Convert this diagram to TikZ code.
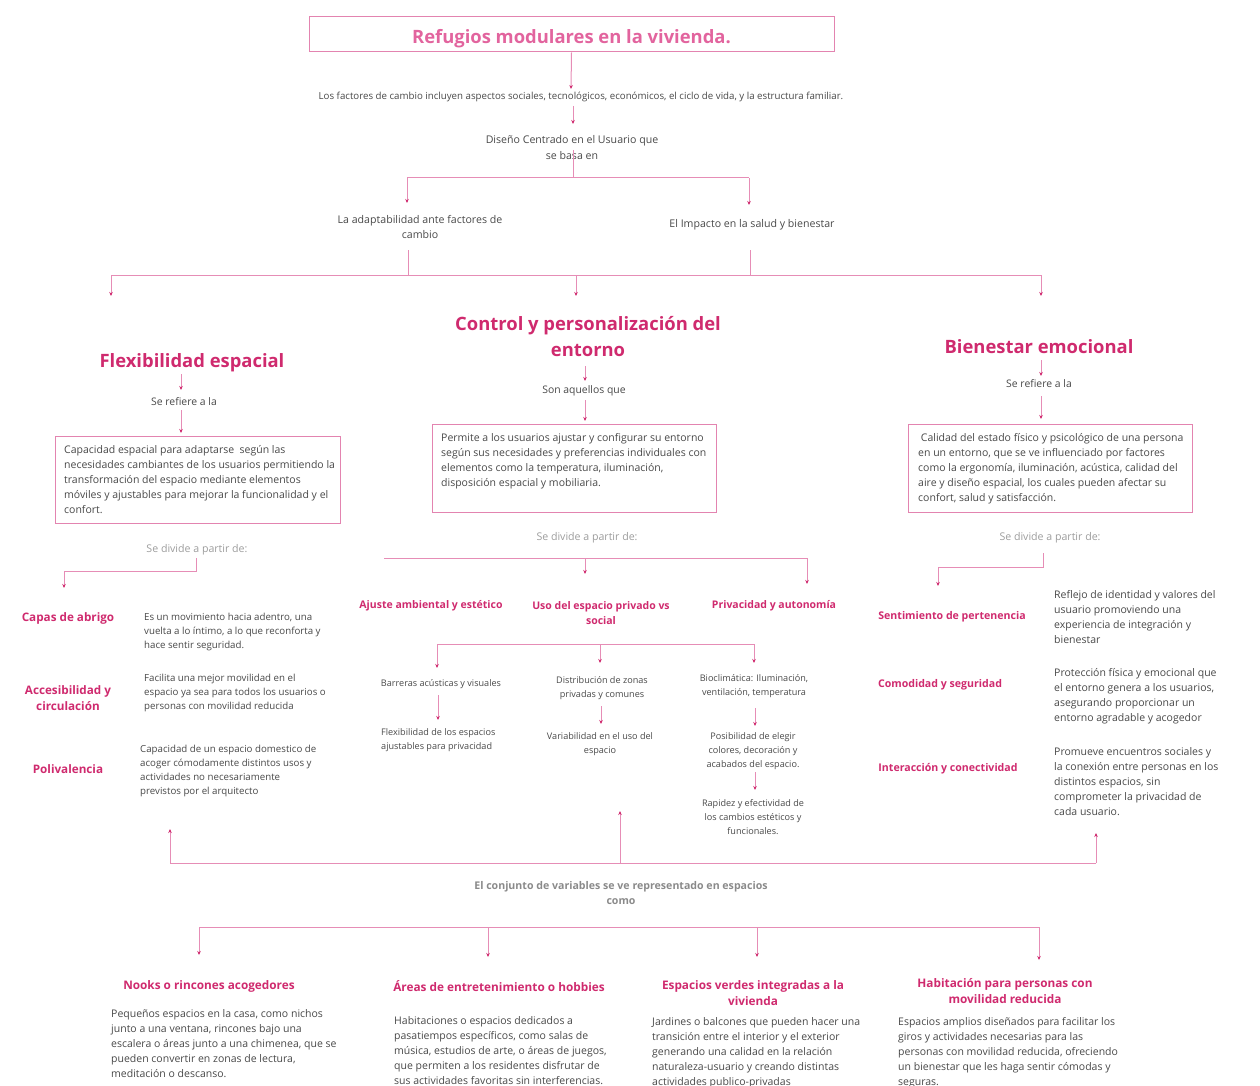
\documentclass[tikz,border=0pt]{standalone}
\usepackage{fontspec}
\setmainfont{Open Sans}
\usetikzlibrary{arrows.meta}
\definecolor{tpink}{HTML}{E2649E}
\definecolor{mag}{HTML}{CF2A6E}
\definecolor{lpink}{HTML}{E68DB6}
\definecolor{bpink}{HTML}{E384B0}
\definecolor{tgray}{HTML}{484848}
\definecolor{lgray}{HTML}{9C9C9C}
\definecolor{mgray}{HTML}{8A8A8A}
\tikzset{
  conn/.style={draw=lpink, line width=1pt},
  arr/.style={conn, -{Stealth[length=4pt,width=3.5pt,color=mag]}},
  body/.style={inner sep=0pt, text=tgray, align=left, anchor=north west, font=\fontsize{10.5}{15}\selectfont},
  sbody/.style={inner sep=0pt, text=tgray, align=left, anchor=north west, font=\fontsize{9.7}{14}\selectfont},
  tiny/.style={inner sep=0pt, text=tgray, align=center, font=\fontsize{9.1}{13.8}\selectfont},
  lab/.style={inner sep=0pt, text=tgray, align=center, font=\fontsize{10.6}{15.5}\selectfont},
  divl/.style={inner sep=0pt, text=lgray, font=\fontsize{10.6}{14}\selectfont},
  bighead/.style={inner sep=0pt, text=mag, align=center, font=\fontsize{18.4}{26}\selectfont\bfseries},
  subhead/.style={inner sep=0pt, text=mag, align=center, font=\fontsize{11.8}{16}\selectfont\bfseries},
  lsub/.style={subhead, font=\fontsize{11.7}{16}\selectfont\bfseries},
  csub/.style={subhead, font=\fontsize{10.5}{15}\selectfont\bfseries},
  rsub/.style={subhead, font=\fontsize{10.6}{15}\selectfont\bfseries},
  box/.style={draw=bpink, line width=1pt, inner sep=0pt},
}
\begin{document}
\begin{tikzpicture}[x=1pt,y=-1pt]
\useasboundingbox (0,0) rectangle (1260,1086);
% title
\node[box, minimum width=525pt, minimum height=35pt, text height=14pt, text depth=1pt, text=tpink, font=\fontsize{18.4}{20}\selectfont\bfseries] (title) at (571.5,34.5) {\raisebox{-3pt}{Refugios modulares en la vivienda.}};
\node[tiny, font=\fontsize{9.7}{12}\selectfont] (factores) at (581,97) {Los factores de cambio incluyen aspectos sociales, tecnológicos, económicos, el ciclo de vida, y la estructura familiar.};
\node[lab] (disenio) at (572,147.5) {Diseño Centrado en el Usuario que\\se basa en};
\node[lab] (adapt) at (420,227) {La adaptabilidad ante factores de\\cambio};
\node[lab] (impacto) at (752,225) {El Impacto en la salud y bienestar};

\coordinate (t0) at (571,89);
\draw[arr] (title.south) -- (t0);
\coordinate (f0) at (573,106);
\coordinate (f1) at (573,124);
\draw[arr] (f0) -- (f1);
\coordinate (d0) at (573,150);
\coordinate (d1) at (573,178);
\draw[conn] (d0) -- (d1);
\coordinate (b1l) at (407,178);
\coordinate (b1r) at (749,178);
\draw[conn] (b1l) -- (b1r);
\draw[arr] (b1l) -- (407,203);
\draw[arr] (b1r) -- (749,205);
\coordinate (a0) at (408,250);
\coordinate (a1) at (408,275);
\coordinate (i0) at (750,250);
\coordinate (i1) at (750,275);
\draw[conn] (a0) -- (a1);
\draw[conn] (i0) -- (i1);
\coordinate (b2l) at (111,275);
\coordinate (b2m) at (576,275);
\coordinate (b2r) at (1041,275);
\draw[conn] (b2l) -- (b2r);
\draw[arr] (b2l) -- (111,296);
\draw[arr] (b2m) -- (576,296);
\draw[arr] (b2r) -- (1041,296);

% three main headings
\node[bighead] (flex) at (192,363) {Flexibilidad espacial};
\node[bighead] (control) at (588,337) {Control y personalización del\\entorno};
\node[bighead] (bien) at (1039,347) {Bienestar emocional};

\node[lab, font=\fontsize{10.4}{14}\selectfont] (flexref) at (184,402) {Se refiere a la};
\node[lab, font=\fontsize{10.4}{14}\selectfont] (ctrlson) at (584,391) {Son aquellos que};
\node[lab, font=\fontsize{10.4}{14}\selectfont] (bienref) at (1039,384) {Se refiere a la};

\draw[arr] (181,374) -- (181,390);
\draw[arr] (181,410) -- (181,433);
\draw[arr] (585,366) -- (585,381);
\draw[arr] (585,400) -- (585,421);
\draw[arr] (1041,360) -- (1041,376);
\draw[arr] (1041,396) -- (1041,419);

% boxes
\draw[box] (55,436) rectangle (340,523);
\node[body] (flexbox) at (64,443) {\strut Capacidad espacial para adaptarse\ \ según las\\necesidades cambiantes de los usuarios permitiendo la\\transformación del espacio mediante elementos\\móviles y ajustables para mejorar la funcionalidad y el\\confort.};
\draw[box] (432,424) rectangle (716,512);
\node[body] (ctrlbox) at (441,431) {\strut Permite a los usuarios ajustar y configurar su entorno\\según sus necesidades y preferencias individuales con\\elementos como la temperatura, iluminación,\\disposición espacial y mobiliaria.};
\draw[box] (908,424) rectangle (1192,512);
\node[body] (bienbox) at (918,431) {\strut\ Calidad del estado físico y psicológico de una persona\\en un entorno, que se ve influenciado por factores\\como la ergonomía, iluminación, acústica, calidad del\\aire y diseño espacial, los cuales pueden afectar su\\confort, salud y satisfacción.};

% se divide
\node[divl] (flexdiv) at (197,550) {Se divide a partir de:};
\node[divl] (ctrldiv) at (587,538) {Se divide a partir de:};
\node[divl] (biendiv) at (1050,538) {Se divide a partir de:};

\draw[arr] (196,558) -- (196,571) -- (64,571) -- (64,588);
\draw[conn] (384,558) -- (807,558);
\draw[arr] (585,558) -- (585,574);
\draw[arr] (807,558) -- (807,584);
\draw[arr] (1043,553) -- (1043,567) -- (938,567) -- (938,586);

% left column
\node[lsub] (capas) at (68,618) {Capas de abrigo};
\node[sbody] (capasd) at (144,610) {\strut Es un movimiento hacia adentro, una\\vuelta a lo íntimo, a lo que reconforta y\\hace sentir seguridad.};
\node[lsub] (acces) at (68,698) {Accesibilidad y\\circulación};
\node[sbody] (accesd) at (144,671) {\strut Facilita una mejor movilidad en el\\espacio ya sea para todos los usuarios o\\personas con movilidad reducida};
\node[lsub] (poli) at (68,769) {Polivalencia};
\node[sbody] (polid) at (140,742) {\strut Capacidad de un espacio domestico de\\acoger cómodamente distintos usos y\\actividades no necesariamente\\previstos por el arquitecto};

% center column
\node[csub] (ajuste) at (431,606) {Ajuste ambiental y estético};
\node[csub] (uso) at (601,613.5) {Uso del espacio privado vs\\social};
\node[csub] (priv) at (774,606) {Privacidad y autonomía};

\draw[conn] (437,644) -- (754,644);
\draw[arr] (437,644) -- (437,668);
\draw[arr] (600,644) -- (600,663);
\draw[arr] (754,644) -- (754,663);

\node[tiny] (barreras) at (441,684) {Barreras acústicas y visuales};
\node[tiny, anchor=north west, align=left] (flexesp) at (381,726) {\strut Flexibilidad de los espacios\\ajustables para privacidad};
\node[tiny, anchor=north] (distrib) at (602,674) {\strut Distribución de zonas\\privadas y comunes};
\node[tiny, anchor=north] (variab) at (600,730) {\strut Variabilidad en el uso del\\espacio};
\node[tiny, anchor=north] (biocl) at (754,672) {\strut Bioclimática: Iluminación,\\ventilación, temperatura};
\node[tiny, anchor=north] (posib) at (753,730) {\strut Posibilidad de elegir\\colores, decoración y\\acabados del espacio.};
\node[tiny, anchor=north] (rapidez) at (753,797) {\strut Rapidez y efectividad de\\los cambios estéticos y\\funcionales.};

\draw[arr] (438,695) -- (438,720);
\draw[arr] (601,706) -- (601,724);
\draw[arr] (755,708) -- (755,726);
\draw[arr] (755,772) -- (755,790);

% right column
\node[rsub] (sent) at (952,617) {Sentimiento de pertenencia};
\node[body] (sentd) at (1054,588) {\strut Reflejo de identidad y valores del\\usuario promoviendo una\\experiencia de integración y\\bienestar};
\node[rsub] (comod) at (940,685) {Comodidad y seguridad};
\node[body] (comodd) at (1054,666) {\strut Protección física y emocional que\\el entorno genera a los usuarios,\\asegurando proporcionar un\\entorno agradable y acogedor};
\node[rsub] (inter) at (948,769) {Interacción y conectividad};
\node[body] (interd) at (1054,745) {\strut Promueve encuentros sociales y\\la conexión entre personas en los\\distintos espacios, sin\\comprometer la privacidad de\\cada usuario.};

% bottom bus up
\coordinate (u1) at (170,863);
\coordinate (u2) at (620,863);
\coordinate (u3) at (1096,863);
\draw[conn] (u1) -- (u3);
\draw[arr] (u1) -- (170,829);
\draw[arr] (u2) -- (620,811);
\draw[arr] (u3) -- (1096,833);

\node[inner sep=0pt, text=mgray, align=center, font=\fontsize{10.6}{15}\selectfont\bfseries] (conjunto) at (621,893) {El conjunto de variables se ve representado en espacios\\como};

\coordinate (w1) at (199,927);
\coordinate (w2) at (488,927);
\coordinate (w3) at (757,927);
\coordinate (w4) at (1039,927);
\draw[conn] (w1) -- (w4);
\draw[arr] (w1) -- (199,955);
\draw[arr] (w2) -- (488,957);
\draw[arr] (w3) -- (757,957);
\draw[arr] (w4) -- (1039,960);

\node[subhead] (nooks) at (209,986) {Nooks o rincones acogedores};
\node[body] (nooksd) at (111,1007) {\strut Pequeños espacios en la casa, como nichos\\junto a una ventana, rincones bajo una\\escalera o áreas junto a una chimenea, que se\\pueden convertir en zonas de lectura,\\meditación o descanso.};
\node[subhead] (areas) at (499,986) {Áreas de entretenimiento o hobbies};
\node[body] (areasd) at (394,1014) {\strut Habitaciones o espacios dedicados a\\pasatiempos específicos, como salas de\\música, estudios de arte, o áreas de juegos,\\que permiten a los residentes disfrutar de\\sus actividades favoritas sin interferencias.};
\node[subhead] (verdes) at (753,993) {Espacios verdes integradas a la\\vivienda};
\node[body] (verdesd) at (652,1015) {\strut Jardines o balcones que pueden hacer una\\transición entre el interior y el exterior\\generando una calidad en la relación\\naturaleza-usuario y creando distintas\\actividades publico-privadas};
\node[subhead] (habit) at (1005,991) {Habitación para personas con\\movilidad reducida};
\node[body] (habitd) at (898,1015) {\strut Espacios amplios diseñados para facilitar los\\giros y actividades necesarias para las\\personas con movilidad reducida, ofreciendo\\un bienestar que les haga sentir cómodas y\\seguras.};
\end{tikzpicture}
\end{document}
